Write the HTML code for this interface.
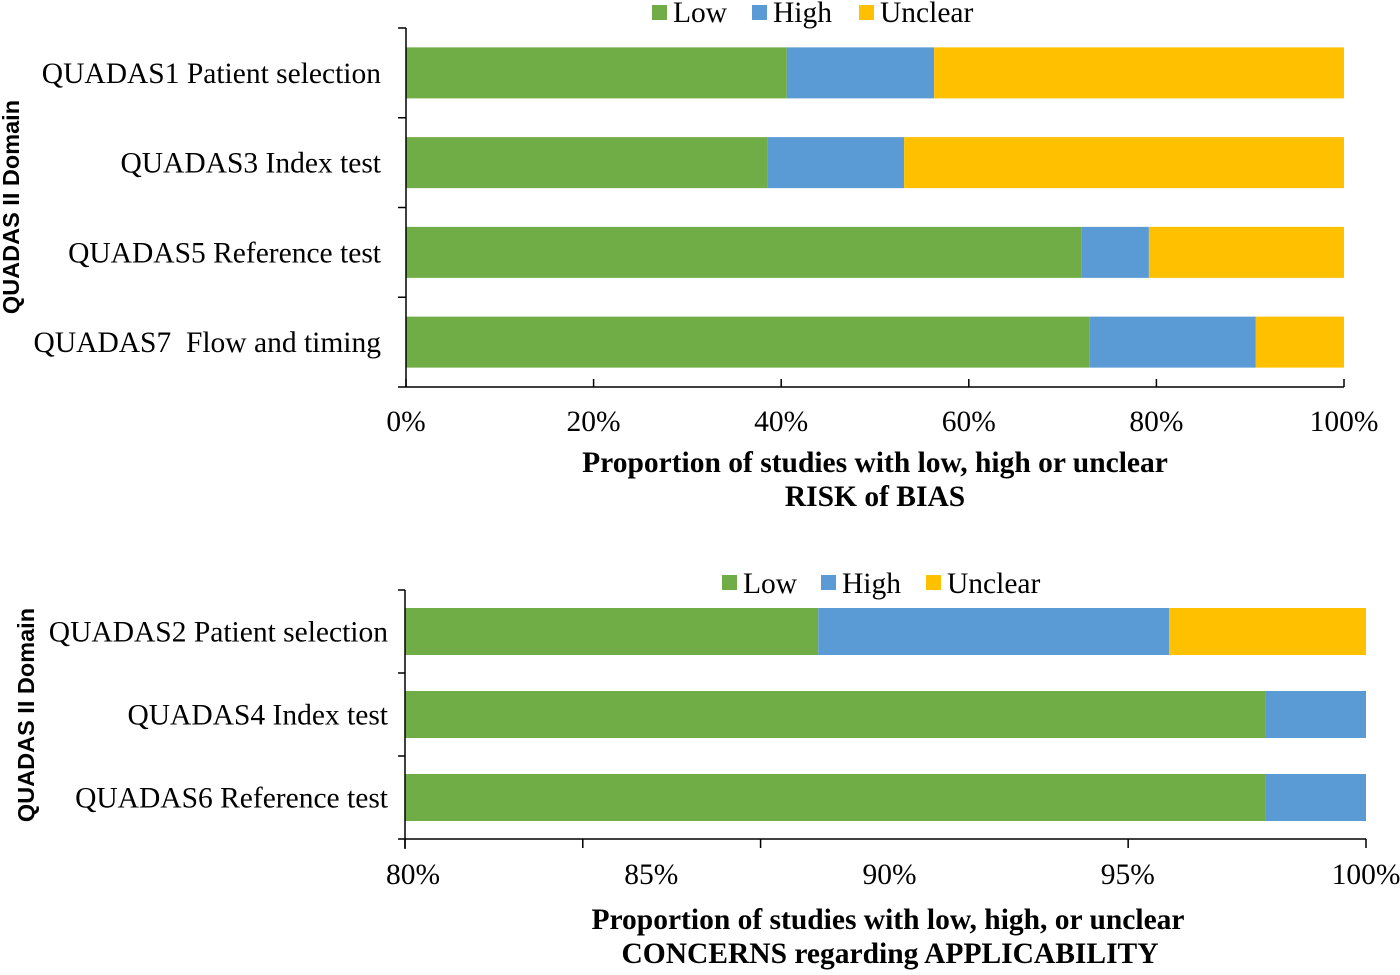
<!DOCTYPE html>
<html><head><meta charset="utf-8"><style>
html,body{margin:0;padding:0;background:#fff;}
svg text{font-family:"Liberation Serif",serif;fill:#000;white-space:pre;}
.t{font-family:"Liberation Serif",serif;font-weight:bold;}
.ya{font-family:"Liberation Sans",sans-serif;font-weight:bold;}
</style></head><body>
<svg id="c" width="1400" height="970" viewBox="0 0 1400 970" xmlns="http://www.w3.org/2000/svg">
<g id="g1"></g>
<g id="g2"></g>
<text class="t" x="875" y="472" font-size="29.5" text-anchor="middle">Proportion of studies with low, high or unclear</text>
<text class="t" x="875" y="506" font-size="29.5" text-anchor="middle">RISK of BIAS</text>
<text class="ya" transform="translate(19,207) rotate(-90)" font-size="23.5" text-anchor="middle">QUADAS II Domain</text>
<text class="t" x="888" y="929" font-size="29.5" text-anchor="middle">Proportion of studies with low, high, or unclear</text>
<text class="t" x="890" y="963" font-size="29.5" text-anchor="middle">CONCERNS regarding APPLICABILITY</text>
<text class="ya" transform="translate(34,715) rotate(-90)" font-size="23.5" text-anchor="middle">QUADAS II Domain</text>
</svg>
<script>
const cats1 = ["QUADAS1 Patient selection","QUADAS3 Index test","QUADAS5 Reference test","QUADAS7  Flow and timing"];
const low1 = [40.6, 38.5, 72.0, 72.9];
const high1 = [15.7, 14.6, 7.2, 17.7];
const unclear1 = [43.7, 46.9, 20.8, 9.4];
const ticks1 = [0,20,40,60,80,100];

const cats2 = ["QUADAS2 Patient selection","QUADAS4 Index test","QUADAS6 Reference test"];
const low2 = [88.6, 97.9, 97.9];
const high2 = [7.3, 2.1, 2.1];
const unclear2 = [4.1, 0, 0];
const tickLabels2 = [80,85,90,95,100];
const tickMarks2 = [80,83.7,87.4,95.05,100];

const FS = 29.5;
const colors = {Low:"#70AD47",High:"#5B9BD5",Unclear:"#FFC000"};
const NS="http://www.w3.org/2000/svg";
function mk(parent,tag,attrs){const e=document.createElementNS(NS,tag);for(const k in attrs)e.setAttribute(k,attrs[k]);parent.appendChild(e);return e;}

// Panel 1
(function(){
  const g=document.getElementById('g1');
  const x0=406,x1=1344,top=28,bot=387;
  const x=v=>x0+(v/100)*(x1-x0);
  const band=(bot-top)/cats1.length;
  const bh=51;
  cats1.forEach((c,i)=>{
    const yc=top+band*(i+0.5);
    let acc=0;
    [["Low",low1[i]],["High",high1[i]],["Unclear",unclear1[i]]].forEach(([s,v])=>{
      if(v<=0)return;
      const r=mk(g,'rect',{x:x(acc),y:yc-bh/2,width:x(acc+v)-x(acc),height:bh,fill:colors[s]});
      
      
      acc+=v;
    });
    const t=mk(g,'text',{x:381,y:yc+10,'font-size':FS,'text-anchor':'end'});
    t.textContent=c;
    
    
  });
  mk(g,'line',{x1:x0,y1:top,x2:x0,y2:bot,stroke:'#000','stroke-width':1.5});
  mk(g,'line',{x1:x0,y1:bot,x2:x1,y2:bot,stroke:'#000','stroke-width':1.5});
  for(let i=0;i<=cats1.length;i++){const yy=top+band*i;mk(g,'line',{x1:398,y1:yy,x2:x0,y2:yy,stroke:'#000','stroke-width':1.5});}
  ticks1.forEach(v=>{
    mk(g,'line',{x1:x(v),y1:bot,x2:x(v),y2:bot-8,stroke:'#000','stroke-width':1.5});
    const t=mk(g,'text',{x:x(v),y:431,'font-size':FS,'text-anchor':'middle'});
    t.textContent=v+'%';
    
    
  });
  const leg=[["Low",652],["High",752],["Unclear",859]];
  leg.forEach(([s,lx])=>{
    const r=mk(g,'rect',{x:lx,y:5,width:15,height:15,fill:colors[s]});
    
    
    const t=mk(g,'text',{x:lx+21,y:22,'font-size':FS});
    t.textContent=s;
    
    
  });
})();

// Panel 2
(function(){
  const g=document.getElementById('g2');
  const x0=405,x1=1366,top=590,bot=839;
  const x=v=>x0+((v-80)/20)*(x1-x0);
  const xl=v=>413+((v-80)/20)*(1366-413);
  const band=(bot-top)/cats2.length;
  const bh=47;
  cats2.forEach((c,i)=>{
    const yc=top+band*(i+0.5);
    let acc=80;
    const segs=[["Low",low2[i]-80],["High",high2[i]],["Unclear",unclear2[i]]];
    segs.forEach(([s,v])=>{
      if(v<=0)return;
      const r=mk(g,'rect',{x:x(acc),y:yc-bh/2,width:x(Math.min(100,acc+v))-x(acc),height:bh,fill:colors[s]});
      
      
      acc+=v;
    });
    const t=mk(g,'text',{x:388,y:yc+10,'font-size':FS,'text-anchor':'end'});
    t.textContent=c;
    
    
  });
  mk(g,'line',{x1:x0,y1:top,x2:x0,y2:bot+10,stroke:'#000','stroke-width':1.5});
  mk(g,'line',{x1:398,y1:bot,x2:x1,y2:bot,stroke:'#000','stroke-width':1.5});
  for(let i=0;i<cats2.length;i++){const yy=top+band*i;mk(g,'line',{x1:398,y1:yy,x2:x0,y2:yy,stroke:'#000','stroke-width':1.5});}
  tickMarks2.forEach(v=>{mk(g,'line',{x1:x(v),y1:bot,x2:x(v),y2:bot+9,stroke:'#000','stroke-width':1.5});});
  tickLabels2.forEach(v=>{
    const t=mk(g,'text',{x:xl(v),y:884,'font-size':FS,'text-anchor':'middle'});
    t.textContent=v+'%';
    
    
  });
  const leg=[["Low",722],["High",821],["Unclear",926]];
  leg.forEach(([s,lx])=>{
    const r=mk(g,'rect',{x:lx,y:575,width:15,height:15,fill:colors[s]});
    
    
    const t=mk(g,'text',{x:lx+21,y:593,'font-size':FS});
    t.textContent=s;
    
    
  });
})();
</script>
</body></html>
